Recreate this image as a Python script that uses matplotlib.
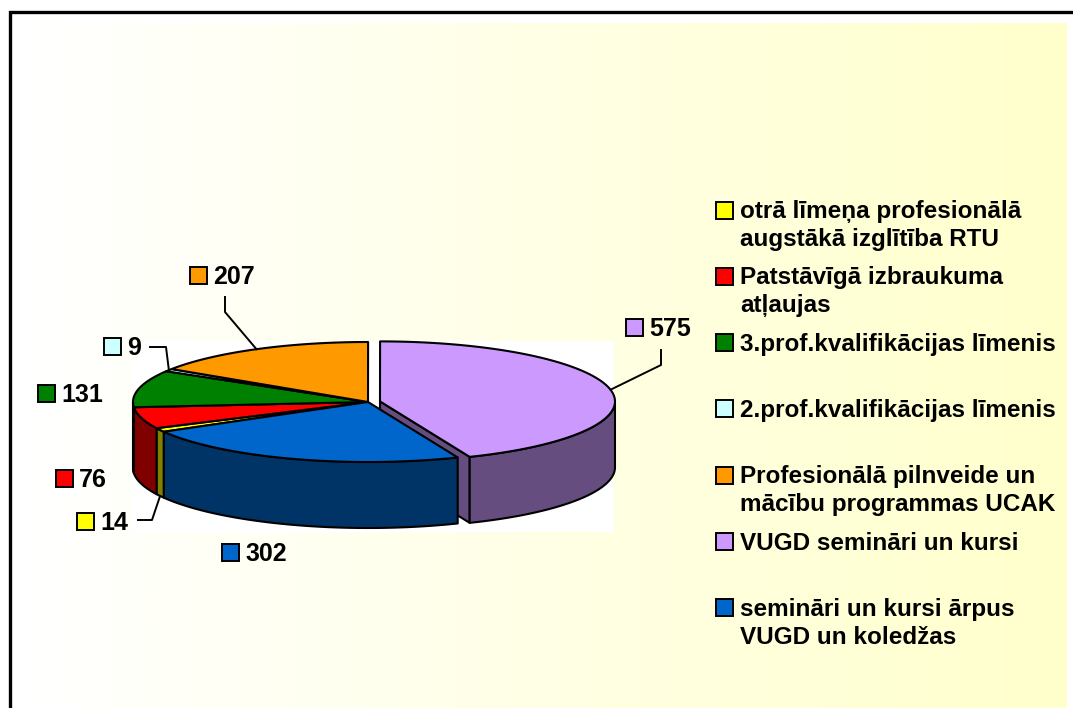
import numpy as np
import matplotlib
matplotlib.use("Agg")
import matplotlib.pyplot as plt
from matplotlib.patches import Polygon, Rectangle
from matplotlib.colors import to_rgb, LinearSegmentedColormap

# ---------------- data ----------------
categories = [
    "otrā līmeņa profesionālā\naugstākā izglītība RTU",
    "Patstāvīgā izbraukuma\natļaujas",
    "3.prof.kvalifikācijas līmenis",
    "2.prof.kvalifikācijas līmenis",
    "Profesionālā pilnveide un\nmācību programmas UCAK",
    "VUGD semināri un kursi",
    "semināri un kursi ārpus\nVUGD un koledžas",
]
values = [14, 76, 131, 9, 207, 575, 302]
colors = ["#FFFF00", "#FF0000", "#008000", "#CCFFFF", "#FF9900", "#CC99FF", "#0066CC"]
explode = [0, 0, 0, 0, 0, 0.052, 0]

# ---------------- layout ----------------
W, H = 1073, 708
cx, cy = 368, 402
rx, ry = 235, 60
depth = 66
first_angle = 240.3          # angle of first slice, clockwise from 12 o'clock
edge_lw = 1.5

# label box (square left x, centre y) per slice
label_pos = [(77, 521), (56, 478), (38, 393), (104, 346), (190, 275), (626, 327), (222, 552)]
# leader elbow points; last point attaches to the slice
leaders = {
    0: [(138, 520), (152, 520)],
    3: [(150, 347), (166, 347)],
    4: [(225, 297), (225, 312)],
    5: [(661, 350), (661, 365)],
}
leader_bottom = {0: True}

FONT = ["Liberation Sans", "DejaVu Sans"]

fig = plt.figure(figsize=(W / 100, H / 100), dpi=100)
ax = fig.add_axes([0, 0, 1, 1])
ax.set_xlim(0, W)
ax.set_ylim(H, 0)
ax.axis("off")

# background gradient
cmap = LinearSegmentedColormap.from_list("bg", ["#FFFFFF", "#FFFFCC"])
grad = np.linspace(0, 1, 512).reshape(1, -1)
ax.imshow(grad, extent=[28, 1067, H, 23], aspect="auto", cmap=cmap, zorder=0)
# plot area (white)
ax.add_patch(Rectangle((132, 341), 482, 191, facecolor="white", edgecolor="none", zorder=0.5))
# outer border
ax.plot([9.5, 9.5, W + 5], [H + 5, 11.5, 11.5], color="black", lw=2.4,
        solid_joinstyle="miter", zorder=10, clip_on=False)

# ---------------- pie geometry ----------------
total = float(sum(values))
cum = first_angle + 360.0 * np.concatenate([[0], np.cumsum(values)]) / total
slices = []
for i, v in enumerate(values):
    ts = 90.0 - cum[i]
    ts = ((ts + 270.0) % 360.0) - 270.0
    span = 360.0 * v / total
    te = ts - span
    tm = np.radians((ts + te) / 2)
    off = (explode[i] * rx * np.cos(tm), -explode[i] * ry * np.sin(tm))
    slices.append((ts, te, off))


def pt(theta_deg, off, z=0.0):
    t = np.radians(theta_deg)
    return (cx + off[0] + rx * np.cos(t), cy + off[1] - ry * np.sin(t) + z)


def dark(c):
    r, g, b = to_rgb(c)
    return (r * 0.5, g * 0.5, b * 0.5)


# radial faces for exploded slices
for i, (ts, te, off) in enumerate(slices):
    if explode[i] == 0:
        continue
    c0 = (cx + off[0], cy + off[1])
    for th, vis in ((te, np.cos(np.radians(te)) > 1e-6), (ts, np.cos(np.radians(ts)) < -1e-6)):
        if not vis:
            continue
        p = pt(th, off)
        poly = [c0, p, (p[0], p[1] + depth), (c0[0], c0[1] + depth)]
        ax.add_patch(Polygon(poly, closed=True, facecolor=dark(colors[i]), edgecolor="black",
                             lw=edge_lw, joinstyle="round", zorder=1))

# outer walls (front half)
for i, (ts, te, off) in enumerate(slices):
    lo, hi = max(te, -180.0), min(ts, 0.0)
    if lo >= hi:
        continue
    th = np.linspace(hi, lo, 80)
    top = [pt(t, off) for t in th]
    bot = [pt(t, off, depth) for t in th[::-1]]
    ax.add_patch(Polygon(top + bot, closed=True, facecolor=dark(colors[i]), edgecolor="black",
                         lw=edge_lw, joinstyle="round", zorder=2))

# tops
for i, (ts, te, off) in enumerate(slices):
    th = np.linspace(ts, te, max(4, int((ts - te) * 2)))
    poly = [(cx + off[0], cy + off[1])] + [pt(t, off) for t in th]
    ax.add_patch(Polygon(poly, closed=True, facecolor=colors[i], edgecolor="black",
                         lw=edge_lw, joinstyle="round", zorder=3))

# ---------------- data labels ----------------
lab_fs = 18
for i, v in enumerate(values):
    sx, sy = label_pos[i]
    ax.add_patch(Rectangle((sx, sy - 8.5), 17, 17, facecolor=colors[i], edgecolor="black",
                           lw=1.4, zorder=5))
    ax.text(sx + 23, sy + 9, str(v), fontsize=lab_fs, fontweight="bold", family=FONT,
            ha="left", va="baseline", zorder=5)
    if i in leaders:
        ts, te, off = slices[i]
        z = depth if leader_bottom.get(i, False) else 0.0
        end = pt((ts + te) / 2, off, z)
        pts = leaders[i] + [end]
        ax.plot([p[0] for p in pts], [p[1] for p in pts], color="black", lw=1.4, zorder=4)

# ---------------- legend ----------------
leg_fs = 17.5
leg_x = 716
leg_y0 = 210
leg_step = 66.3
line_h = 28
for i, cat in enumerate(categories):
    y = leg_y0 + leg_step * i
    ax.add_patch(Rectangle((leg_x, y - 8.5), 17, 17, facecolor=colors[i], edgecolor="black",
                           lw=1.4, zorder=5))
    for k, line in enumerate(cat.split("\n")):
        ax.text(leg_x + 24, y + 8 + k * line_h, line, fontsize=leg_fs, fontweight="bold",
                family=FONT, ha="left", va="baseline", zorder=5)

fig.savefig("out.png", dpi=100)
